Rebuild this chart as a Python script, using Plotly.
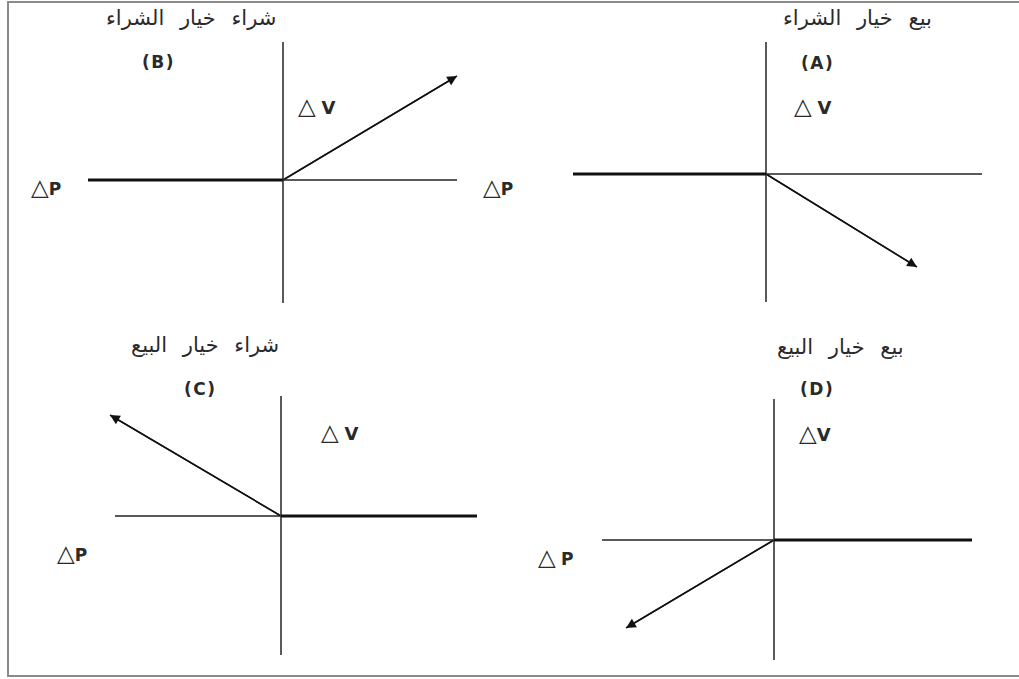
import plotly.graph_objects as go

W, H = 1019, 679

# panels in order A, B, C, D (units: 1 unit = 10 px, ΔV upward)
PANELS = ['A', 'B', 'C', 'D']
TITLES = ['بيع خيار الشراء', 'شراء خيار الشراء', 'شراء خيار البيع', 'بيع خيار البيع']
P_AXIS = [[-19.3, 21.6], [-19.5, 17.4], [-16.6, 19.6], [-17.2, 19.8]]
V_AXIS = [[-12.8, 13.2], [-12.3, 13.8], [-13.9, 12.0], [-12.0, 14.1]]
FLAT_P = [[-19.3, 0], [-19.5, 0], [0, 19.6], [0, 19.8]]      # thick flat part of payoff
SLOPE_P = [[0, 15.1], [0, 17.4], [0, -17.1], [0, -14.8]]     # sloped part, ends in arrow
SLOPE_V = [[0, -9.3], [0, 10.4], [0, 10.1], [0, -8.8]]

# layout (pixels): origin of each panel and the quadrant it lives in
S = 10
ORIGIN = [(766, 174), (283, 180), (281, 516), (774, 540)]
QUAD = [(500, 0, 1019, 320), (0, 0, 500, 320), (0, 320, 500, 679), (500, 320, 1019, 679)]
TITLE_XY = [(857, 18), (191, 18), (205, 345), (840, 347)]
LETTER_XY = [(817, 63), (158, 62), (200, 389), (817, 389)]
DV_XY = [(812, 106), (316, 106), (339, 432), (815, 433)]
DP_XY = [(498, 187), (46, 187), (72, 553), (556, 557)]
DV_TXT = ['△</span> <b>V</b>', '△</span> <b>V</b>', '△</span> <b>V</b>', '△</span><b>V</b>']
DP_TXT = ['△</span><b>P</b>', '△</span><b>P</b>', '△</span><b>P</b>', '△</span> <b>P</b>']

FONT = 'DejaVu Sans, Arial, sans-serif'
TRI = '<span style="font-size:23px;font-weight:normal">'


def px(x, y):
    return x / W, 1 - y / H


def label(x, y, text, size, family=FONT):
    tx, ty = px(x, y)
    return dict(x=tx, y=ty, xref='paper', yref='paper', text=text, showarrow=False,
                xanchor='center', yanchor='middle',
                font=dict(family=family, size=size, color='#2a2a2a'))


fig = go.Figure()
annotations = []
for i, p in enumerate(PANELS):
    sx = '' if i == 0 else str(i + 1)
    xa, ya = 'x' + sx, 'y' + sx
    ox, oy = ORIGIN[i]
    qx0, qy0, qx1, qy1 = QUAD[i]
    fig.update_layout(**{
        'xaxis' + sx: dict(domain=[qx0 / W, qx1 / W], range=[(qx0 - ox) / S, (qx1 - ox) / S],
                           visible=False, anchor=ya, fixedrange=True),
        'yaxis' + sx: dict(domain=[1 - qy1 / H, 1 - qy0 / H], range=[(oy - qy1) / S, (oy - qy0) / S],
                           visible=False, anchor=xa, fixedrange=True),
    })
    # axes of the diagram
    fig.add_trace(go.Scatter(x=P_AXIS[i], y=[0, 0], mode='lines', xaxis=xa, yaxis=ya,
                             line=dict(color='#222222', width=1.3), hoverinfo='skip'))
    fig.add_trace(go.Scatter(x=[0, 0], y=V_AXIS[i], mode='lines', xaxis=xa, yaxis=ya,
                             line=dict(color='#5a5a5a', width=2), hoverinfo='skip'))
    # payoff: flat part (thick) + sloped part with arrow
    fig.add_trace(go.Scatter(x=FLAT_P[i], y=[0, 0], mode='lines', xaxis=xa, yaxis=ya,
                             line=dict(color='#111111', width=3.2), hoverinfo='skip'))
    fig.add_trace(go.Scatter(x=SLOPE_P[i], y=SLOPE_V[i], mode='lines', xaxis=xa, yaxis=ya,
                             line=dict(color='#222222', width=1.5), hoverinfo='skip'))
    annotations.append(dict(x=SLOPE_P[i][1], y=SLOPE_V[i][1], ax=SLOPE_P[i][0], ay=SLOPE_V[i][0],
                            xref=xa, yref=ya, axref=xa, ayref=ya, text='', showarrow=True,
                            arrowhead=2, arrowsize=1.3, arrowwidth=1.5, arrowcolor='#111111'))

    # texts
    annotations.append(label(*TITLE_XY[i], '<span style="word-spacing:9px">%s</span>' % TITLES[i],
                             21, 'DejaVu Sans'))
    annotations.append(label(*LETTER_XY[i], '<span style="letter-spacing:1.5px"><b>(%s)</b></span>' % p, 17))
    annotations.append(label(*DV_XY[i], TRI + DV_TXT[i], 18))
    annotations.append(label(*DP_XY[i], TRI + DP_TXT[i], 17))

# outer frame (right edge falls outside the picture)
fig.add_shape(type='rect', xref='paper', yref='paper', x0=8 / W, x1=1.02, y0=1 - 676 / H, y1=1 - 2 / H,
              line=dict(color='#8a8a8a', width=2), fillcolor='rgba(0,0,0,0)')

fig.update_layout(width=W, height=H, margin=dict(l=0, r=0, t=0, b=0), showlegend=False,
                  plot_bgcolor='white', paper_bgcolor='white', annotations=annotations)
fig.write_html('out.html', config={'displayModeBar': False},
               post_script="document.body.style.margin='0';document.body.style.overflow='hidden';")
